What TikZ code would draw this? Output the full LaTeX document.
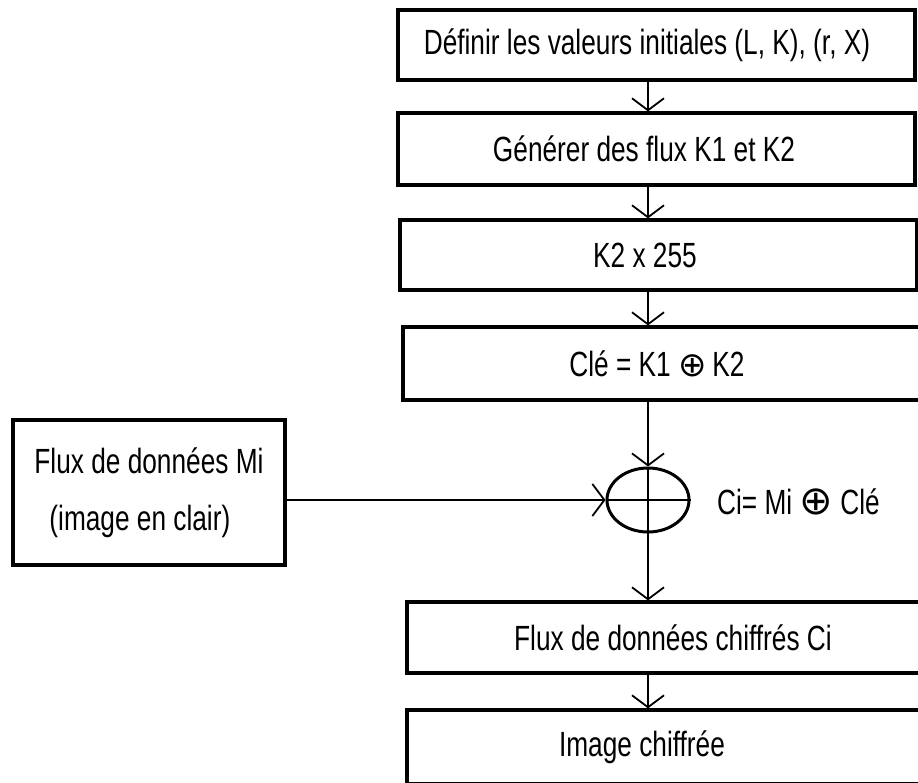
\documentclass[tikz,border=0pt]{standalone}
\usepackage{fontspec}
\setmainfont{Liberation Sans}[FakeStretch=0.75]
\newfontfamily\symfont{DejaVu Sans}
\usetikzlibrary{arrows.meta,shapes.geometric}
\begin{document}
\begin{tikzpicture}[x=1pt,y=-1pt,
  box/.style={draw,line width=3.2pt,rectangle,inner sep=0pt,font=\fontsize{35}{40}\selectfont},
  conn/.style={line width=1.8pt,-{Straight Barb[length=12pt,width=32pt,line width=1.8pt]}},
  plainline/.style={line width=2.6pt},
  xorstyle/.style={draw,ellipse,line width=3pt,inner sep=0pt,minimum width=82pt,minimum height=64pt},
  lbl/.style={inner sep=0pt,font=\fontsize{35}{40}\selectfont}]
\useasboundingbox (0,0) rectangle (918,782);
\clip (0,0) rectangle (918,782);
\coordinate (axis) at (648,0);
\node[box,minimum width=517pt,minimum height=70pt] (b1) at (656.5,45) {D\'efinir les valeurs initiales (L, K), (r, X)\hspace*{19pt}};
\node[box,minimum width=517pt,minimum height=72pt] (b2) at (656.5,149) {G\'en\'erer des flux K1 et K2\hspace*{25pt}};
\node[box,minimum width=517pt,minimum height=70pt] (b3) at (658.5,255) {K2 x 255\hspace*{27pt}};
\node[box,minimum width=527pt,minimum height=73pt] (b4) at (666.5,363.5) {Cl\'e = K1 {\symfont\fontsize{34}{40}\selectfont ⊕}\,K2\hspace*{19pt}};
\node[xorstyle] (xor) at (648,500) {};
\node[box,minimum width=272pt,minimum height=145pt,align=left,font=\fontsize{35}{57}\selectfont] (m) at (149,492.5) {Flux de donn\'ees Mi\\\hspace*{15pt}(image en clair)};
\node[lbl,anchor=west] (ci) at (717,502) {Ci= Mi {\symfont\fontsize{40}{40}\selectfont ⊕} Cl\'e};
\node[box,minimum width=523pt,minimum height=71pt] (b5) at (668.5,637.5) {\hspace*{9pt}Flux de donn\'ees chiffr\'es Ci};
\node[box,minimum width=523pt,minimum height=74pt] (b6) at (668.5,747) {Image chiffr\'ee\hspace*{53pt}};
\draw[conn] (b1.south -| axis) -- (b2.north -| axis);
\draw[conn] (b2.south -| axis) -- (b3.north -| axis);
\draw[conn] (b3.south -| axis) -- (b4.north -| axis);
\draw[conn] (b4.south -| axis) -- (xor.north);
\draw[plainline] (xor.north) -- (xor.south);
\draw[conn] (m.east |- xor.west) -- (xor.west);
\draw[plainline] (xor.west) -- (xor.east);
\draw[conn] (xor.south) -- (b5.north -| axis);
\draw[conn] (b5.south -| axis) -- (b6.north -| axis);
\end{tikzpicture}
\end{document}
